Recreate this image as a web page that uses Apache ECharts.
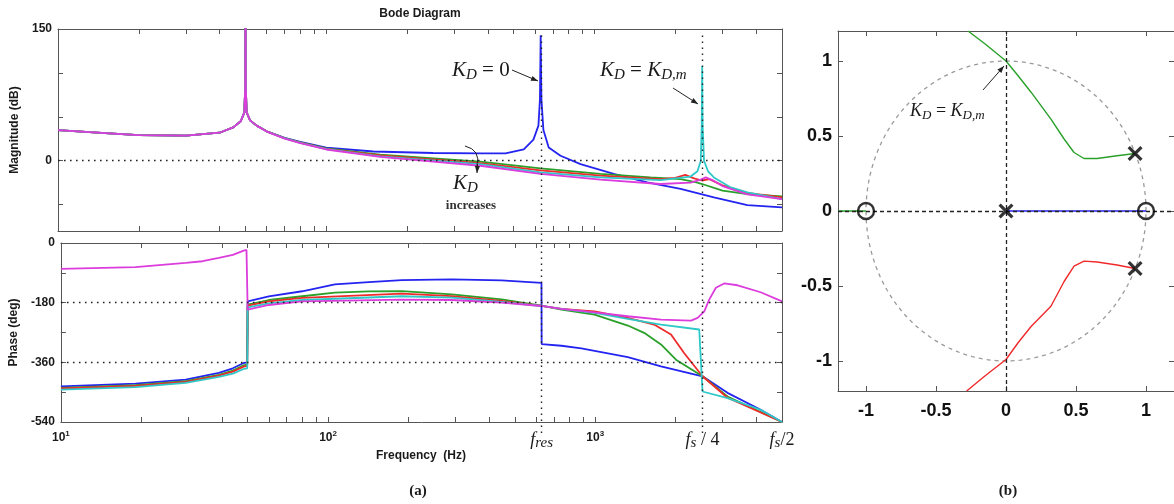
<!DOCTYPE html>
<html><head><meta charset="utf-8">
<script src="https://cdn.jsdelivr.net/npm/echarts@6/dist/echarts.min.js"></script>
<style>html,body{margin:0;padding:0;background:#fff}#c{width:1174px;height:504px}</style>
</head><body><div id="c"></div>
<script>
// ---------------- DATA ----------------
const fres = 630, fs4 = 2520, fs2 = 5000, fmin = 10;
const xTickFreqs = [10,20,30,40,50,60,70,80,90,100,200,300,400,500,600,700,800,900,1000,2000,3000,4000,5000];
const magTicks = [-50,0,50,100,150];
const magLabels = [0,150];
const phaseLabels = [0,-180,-360,-540];
const rlTicks = [-1,-0.5,0,0.5,1];

const magLowFreq = [10,15,20,30,40,45,48,49.5,49.9,50,50.1,50.5,52,55,60,70,80,100];
const magBlueLow  = [34.8,31.5,29.2,28.6,31.9,38,45,55,85,200,85,55,46,40,33.5,26,21.5,15];
const magGreenLow = [34.8,31.5,29.2,28.6,31.9,38,45,55,85,200,85,55,46,40,33.5,25.8,21,14];
const magRedLow   = [34.8,31.5,29.2,28.6,31.9,38,45,55,85,200,85,55,46,40,33.5,25.6,20.7,13.6];
const magCyanLow  = [34.8,31.5,29.2,28.6,31.9,38,45,55,85,200,85,55,46,40,33.3,25.4,20.4,13.2];
const magMagLow   = [34.8,31.5,29.2,28.6,31.9,38,45,55,85,200,85,55,46,40,33.2,25.2,20.1,12.8];

const magBlueHiF  = [150,250,375,466,545,592,618,626,630,634,645,675,747,887,1180,1573,2094,2787,3714,5000];
const magBlueHi   = [10.5,8.8,8.3,8.3,13,24,40,70,143,70,35,15,5.7,-3.8,-15,-24.6,-32,-41.7,-50.5,-53];
const magGreenHiF = [159,375,629,1052,1618,2094,2400,2520,3000,3714,5000];
const magGreenHi  = [7,-1,-8.7,-15,-19,-21,-24.6,-26.5,-34,-38,-40.5];
const magRedHiF   = [159,375,629,1052,1762,2000,2180,2350,2520,2680,3000,3714,5000];
const magRedHi    = [6,-2.6,-11,-17,-21,-19.5,-16,-20,-22.5,-21,-28,-36.6,-41.7];
const magCyanHiF  = [159,375,629,1052,1762,2281,2420,2490,2510,2520,2530,2560,2650,2787,3200,3714,5000];
const magCyanHi   = [5,-3.8,-13.3,-19,-22,-18,-12,0,40,108,40,0,-12,-19,-30,-36,-43.6];
const magMagHiF   = [159,375,629,1052,1762,2281,2487,2600,2750,3000,3714,5000];
const magMagHi    = [4.5,-5.7,-15,-21.5,-26.5,-25,-21.5,-19,-22,-28.8,-38.4,-43.6];

const phBlueF  = [10,19,29.3,39,44,48.3,49.8,50,60,80,106,142,189,290,446,629,630,747,887,1324,1762,2520,3126,4160,5000];
const phBlue   = [-432.6,-424.5,-412,-392,-378,-362,-360,-176,-160.7,-145.6,-125,-118,-112,-110,-113,-120,-305,-310,-318,-344,-372,-402,-452,-503,-540];
const phGreenF = [10,19,29.3,39,44,48.3,49.8,50,60,80,106,142,189,290,446,629,747,994,1324,1524,1762,2005,2520,3126,5000];
const phGreen  = [-437,-429,-417,-398,-385,-369,-367,-186,-172,-160.7,-150,-146,-145,-155,-170,-189,-201,-216,-249,-271,-306,-352,-402,-463,-540];
const phRedF   = [10,19,29.3,39,44,48.3,49.8,50,60,80,189,290,446,629,747,994,1324,1660,1921,2150,2520,3126,5000];
const phRed    = [-439,-431,-419,-400,-388,-373,-371,-189,-176,-165.6,-152.6,-160,-175,-190,-199,-206,-226,-246,-276,-332,-402,-467,-540];
const phCyanF  = [10,19,29.3,39,44,48.3,49.8,50,60,80,189,290,446,629,747,994,1324,1762,2450,2520,3126,4160,5000];
const phCyan   = [-442.6,-435,-422,-404,-394,-380,-378,-194,-182,-172,-160.7,-165,-178,-190,-199,-211,-229,-246,-261,-448,-467.7,-503,-540];
const phMagF   = [10,19,29.3,33.9,39,44,48.3,49.5,50,60,80,189,290,446,629,747,994,1324,1762,2281,2417,2559,2670,2828,3038,3408,4160,5000];
const phMag    = [-78,-73,-60,-55,-45,-36,-23,-21,-201,-187,-176,-170.7,-172,-180,-190,-199,-209,-221,-231,-234,-226,-206,-171,-135,-122,-127.5,-148.6,-176];

// Root locus (z-plane)
const rlGreenX = [0.922,0.793,0.651,0.557,0.486,0.415,0.321,0.179,0.085,0,-0.151,-0.271];
const rlGreenY = [0.383,0.368,0.35,0.35,0.39,0.48,0.613,0.792,0.903,1.0,1.115,1.2];
const rlRedX   = [0.922,0.793,0.651,0.557,0.486,0.415,0.321,0.179,0.085,0,-0.151,-0.281];
const rlRedY   = [-0.383,-0.36,-0.34,-0.334,-0.368,-0.47,-0.635,-0.77,-0.88,-0.99,-1.1,-1.2];
const rlGreenLeftX = [-1.2,-1]; const rlGreenLeftY = [0,0];
const rlBlueX = [0,1]; const rlBlueY = [0,0];
const polesX = [0,0.922,0.922]; const polesY = [0,0.383,-0.383];
const zerosX = [-1,1]; const zerosY = [0,0];

// ---------------- BUILD ----------------
const L = Math.log10;
const near = (a,b) => Math.abs(a-b) < 1e-6;
function fx(fs, vs){ return fs.map((f,i)=>[L(f), vs[i]]); }
function xy(xs, ys){ return xs.map((x,i)=>[x, ys[i]]); }
const colors = {blue:'#2424f0', green:'#2aa02a', red:'#f02a2a', cyan:'#2ec8c8', mag:'#dc3cdc'};
const axCol = '#555';
const lblFont = {fontFamily:'Liberation Sans, Arial', fontWeight:'bold', fontSize:12, color:'#1a1a1a'};

function baseAxis(extra){
  return Object.assign({
    type:'value', scale:false,
    axisLine:{show:true, onZero:false, lineStyle:{color:axCol, width:1}},
    axisTick:{show:true, inside:true, length:5, lineStyle:{color:axCol, width:1}},
    splitLine:{show:false},
    axisLabel:{show:false}
  }, extra);
}
const xLogTicks = xTickFreqs.map(L);
const xMin = L(fmin), xMax = L(fs2);

function bodeX(gi, pos, labels){
  const a = baseAxis({gridIndex:gi, position:pos, min:xMin, max:xMax});
  a.axisTick.customValues = xLogTicks;
  if (labels){
    a.axisLabel = {show:true, margin:7, showMinLabel:true, showMaxLabel:true, hideOverlap:false,
      customValues:[1,2,3,L(fres),L(fs4),L(fs2)],
      formatter:function(v){
        if (near(v,1)) return '{b|10}{sup|1}';
        if (near(v,2)) return '{b|10}{sup|2}';
        if (near(v,3)) return '{b|10}{sup|3}';
        if (near(v,L(fres))) return '{it|f}{sub|res}';
        if (near(v,L(fs4))) return '{it|f}{sub|s}{rm| / 4}';
        if (near(v,L(fs2))) return '{it|f}{sub|s}{rm|/2}';
        return '';
      },
      rich:{
        b:{fontFamily:'Liberation Sans', fontWeight:'bold', fontSize:12, color:'#1a1a1a', padding:[3,0,0,0]},
        sup:{fontFamily:'Liberation Sans', fontWeight:'bold', fontSize:8, color:'#1a1a1a', padding:[0,0,6,0]},
        it:{fontFamily:'Liberation Serif', fontStyle:'italic', fontSize:18, color:'#1a1a1a', padding:[0,0,0,0]},
        sub:{fontFamily:'Liberation Serif', fontStyle:'italic', fontSize:15, color:'#1a1a1a', padding:[7,0,0,0]},
        rm:{fontFamily:'Liberation Serif', fontSize:18, color:'#1a1a1a', padding:[0,0,0,0]}
      }
    };
  }
  return a;
}

const xAxis = [
  bodeX(0,'bottom',false),
  bodeX(0,'top',false),
  bodeX(1,'bottom',true),
  bodeX(1,'top',false),
  {type:'value', gridIndex:2, min:xMin, max:xMax, show:false},
  (function(){ const a = baseAxis({gridIndex:3, position:'bottom', min:-1.2, max:1.2});
     a.axisTick.customValues = rlTicks;
     a.axisLabel = {show:true, customValues:rlTicks, margin:11, fontFamily:'Liberation Sans', fontWeight:'bold', fontSize:18, color:'#111', formatter:v=>String(v)};
     return a; })(),
  (function(){ const a = baseAxis({gridIndex:3, position:'top', min:-1.2, max:1.2});
     a.axisTick.customValues = rlTicks; return a; })()
];

const yAxis = [
  (function(){ const a = baseAxis({gridIndex:0, position:'left', min:-80, max:150,
      name:'Magnitude (dB)', nameLocation:'middle', nameGap:33, nameRotate:90,
      nameTextStyle:{fontFamily:'Liberation Sans', fontWeight:'bold', fontSize:12, color:'#1a1a1a'}});
     a.axisTick.customValues = magTicks;
     a.axisLabel = Object.assign({show:true, customValues:magLabels, margin:6}, lblFont);
     return a; })(),
  (function(){ const a = baseAxis({gridIndex:0, position:'right', min:-80, max:150});
     a.axisTick.customValues = magTicks; return a; })(),
  baseAxis({gridIndex:1, position:'left', min:-540, max:0, interval:90,
      name:'Phase (deg)', nameLocation:'middle', nameGap:33, nameRotate:90,
      nameTextStyle:{fontFamily:'Liberation Sans', fontWeight:'bold', fontSize:12, color:'#1a1a1a'},
      axisLabel:Object.assign({show:true, margin:6, showMinLabel:true, showMaxLabel:true,
        formatter:v=> phaseLabels.indexOf(v) >= 0 ? String(v) : ''}, lblFont)}),
  baseAxis({gridIndex:1, position:'right', min:-540, max:0, interval:90}),
  {type:'value', gridIndex:2, min:0, max:1, show:false},
  (function(){ const a = baseAxis({gridIndex:3, position:'left', min:-1.2, max:1.2});
     a.axisTick.customValues = rlTicks;
     a.axisLabel = {show:true, customValues:rlTicks, margin:6, fontFamily:'Liberation Sans', fontWeight:'bold', fontSize:18, color:'#111', formatter:v=>String(v)};
     return a; })(),
  (function(){ const a = baseAxis({gridIndex:3, position:'right', min:-1.2, max:1.2});
     a.axisTick.customValues = rlTicks; return a; })()
];

function ln(name, data, color, xi, yi, extra){
  return Object.assign({type:'line', name, data, xAxisIndex:xi, yAxisIndex:yi, showSymbol:false, symbol:'none',
    lineStyle:{color, width:1.8}, itemStyle:{color}, clip:true, animation:false, silent:true}, extra||{});
}
const dotted = {color:'#222', width:1.4, type:[1.6,4.4]};

const series = [
  ln('mag blue', fx(magLowFreq.concat(magBlueHiF), magBlueLow.concat(magBlueHi)), colors.blue, 0, 0,
     {markLine:{silent:true, symbol:'none', label:{show:false}, lineStyle:dotted, data:[{yAxis:0}]}}),
  ln('mag green', fx(magLowFreq.concat(magGreenHiF), magGreenLow.concat(magGreenHi)), colors.green, 0, 0),
  ln('mag red', fx(magLowFreq.concat(magRedHiF), magRedLow.concat(magRedHi)), colors.red, 0, 0),
  ln('mag cyan', fx(magLowFreq.concat(magCyanHiF), magCyanLow.concat(magCyanHi)), colors.cyan, 0, 0),
  ln('mag magenta', fx(magLowFreq.concat(magMagHiF), magMagLow.concat(magMagHi)), colors.mag, 0, 0),
  ln('ph blue', fx(phBlueF, phBlue), colors.blue, 2, 2,
     {markLine:{silent:true, symbol:'none', label:{show:false}, lineStyle:dotted, data:[{yAxis:-180},{yAxis:-360}]}}),
  ln('ph green', fx(phGreenF, phGreen), colors.green, 2, 2),
  ln('ph red', fx(phRedF, phRed), colors.red, 2, 2),
  ln('ph cyan', fx(phCyanF, phCyan), colors.cyan, 2, 2),
  ln('ph magenta', fx(phMagF, phMag), colors.mag, 2, 2),
  ln('vlines', [[xMin,0]], 'rgba(0,0,0,0)', 4, 4,
     {z:5, markLine:{silent:true, symbol:'none', label:{show:false}, lineStyle:dotted, data:[{xAxis:L(fres)},{xAxis:L(fs4)}]}}),
  // root locus (unit circle drawn as reference geometry)
  ln('unit circle', (function(){ const p=[]; for(let i=0;i<=180;i++){const t=i/180*2*Math.PI; p.push([Math.cos(t),Math.sin(t)]);} return p; })(),
     '#9a9a9a', 5, 5, {lineStyle:{color:'#9a9a9a', width:1.3, type:[4,4]},
     markLine:{silent:true, symbol:'none', label:{show:false}, lineStyle:{color:'#222', width:1.3, type:[4,3]}, data:[{xAxis:0},{yAxis:0}]}}),
  ln('rl green', xy(rlGreenX, rlGreenY), colors.green, 5, 5, {lineStyle:{color:colors.green, width:1.4}}),
  ln('rl green left', xy(rlGreenLeftX, rlGreenLeftY), colors.green, 5, 5, {lineStyle:{color:colors.green, width:1.4}}),
  ln('rl red', xy(rlRedX, rlRedY), colors.red, 5, 5, {lineStyle:{color:colors.red, width:1.4}}),
  ln('rl blue', xy(rlBlueX, rlBlueY), colors.blue, 5, 5, {lineStyle:{color:colors.blue, width:1.6}}),
  {type:'scatter', name:'poles', xAxisIndex:5, yAxisIndex:5, data:xy(polesX, polesY), z:10, silent:true, animation:false,
   symbol:'path://M3,0 L10,7 L17,0 L20,3 L13,10 L20,17 L17,20 L10,13 L3,20 L0,17 L7,10 L0,3 Z', symbolSize:15,
   itemStyle:{color:'#000'}},
  {type:'scatter', name:'zeros', xAxisIndex:5, yAxisIndex:5, data:xy(zerosX, zerosY), z:10, silent:true, animation:false,
   symbol:'circle', symbolSize:16, itemStyle:{color:'rgba(255,255,255,0)', borderColor:'#000', borderWidth:2.4}}
];

// ---------------- ANNOTATIONS ----------------
function arrow(x1,y1,x2,y2){
  const a=Math.atan2(y2-y1,x2-x1), h=7, w=2.6;
  return [
    {type:'line', silent:true, shape:{x1,y1,x2,y2}, style:{stroke:'#222', lineWidth:1}, z:20},
    {type:'polygon', silent:true, z:20, shape:{points:[[x2,y2],
      [x2-h*Math.cos(a)+w*Math.sin(a), y2-h*Math.sin(a)-w*Math.cos(a)],
      [x2-h*Math.cos(a)-w*Math.sin(a), y2-h*Math.sin(a)+w*Math.cos(a)]]}, style:{fill:'#222'}}
  ];
}
const kRich = (fs, ss) => ({
  k:{fontFamily:'Liberation Serif', fontStyle:'italic', fontSize:fs, fill:'#1a1a1a'},
  e:{fontFamily:'Liberation Serif', fontSize:fs, fill:'#1a1a1a'},
  s:{fontFamily:'Liberation Serif', fontStyle:'italic', fontSize:ss, fill:'#1a1a1a', padding:[Math.round(fs*0.5),0,0,0]}
});
function rtext(x,y,text,rich,align){
  return {type:'text', x, y, silent:true, z:20, style:{text, rich, align:align||'left', verticalAlign:'middle'}};
}
const graphic = [
  {type:'text', x:420, y:14, silent:true, style:{text:'Bode Diagram', font:'bold 12px Liberation Sans', fill:'#1a1a1a', align:'center', verticalAlign:'middle'}},
  {type:'text', x:421, y:456, silent:true, style:{text:'Frequency  (Hz)', font:'bold 12px Liberation Sans', fill:'#1a1a1a', align:'center', verticalAlign:'middle'}},
  {type:'text', x:418, y:491, silent:true, style:{text:'(a)', font:'bold 15px Liberation Serif', fill:'#1a1a1a', align:'center', verticalAlign:'middle'}},
  {type:'text', x:1008, y:491, silent:true, style:{text:'(b)', font:'bold 15px Liberation Serif', fill:'#1a1a1a', align:'center', verticalAlign:'middle'}},
  rtext(452, 70, '{k|K}{s|D}{e| = 0}', kRich(21,15)),
  rtext(600, 70, '{k|K}{s|D}{e| = }{k|K}{s|D,m}', kRich(21,15)),
  rtext(453, 183, '{k|K}{s|D}', kRich(21,15)),
  {type:'text', x:471, y:206, silent:true, style:{text:'increases', font:'bold 13px Liberation Serif', fill:'#333', align:'center', verticalAlign:'middle'}},
  rtext(910, 111, '{k|K}{s|D}{e| = }{k|K}{s|D,m}', kRich(18,13)),
  {type:'bezierCurve', silent:true, z:20, shape:{x1:465,y1:146,cpx1:481,cpy1:150,x2:477,y2:166}, style:{stroke:'#222', lineWidth:1, fill:null}}
].concat(arrow(512,70,538,81), arrow(673,88,698,104), arrow(983,90,1004,66), arrow(477.5,164,477,173));

const chart = echarts.init(document.getElementById('c'), null, {renderer:'canvas'});
chart.setOption({
  animation:false,
  backgroundColor:'#fff',
  grid:[
    {left:58, top:29, width:724, height:202},
    {left:58, top:243, width:724, height:179},
    {left:58, top:33, width:724, height:400},
    {left:838, top:31, width:339, height:360}
  ],
  xAxis, yAxis, series, graphic
});
</script></body></html>
